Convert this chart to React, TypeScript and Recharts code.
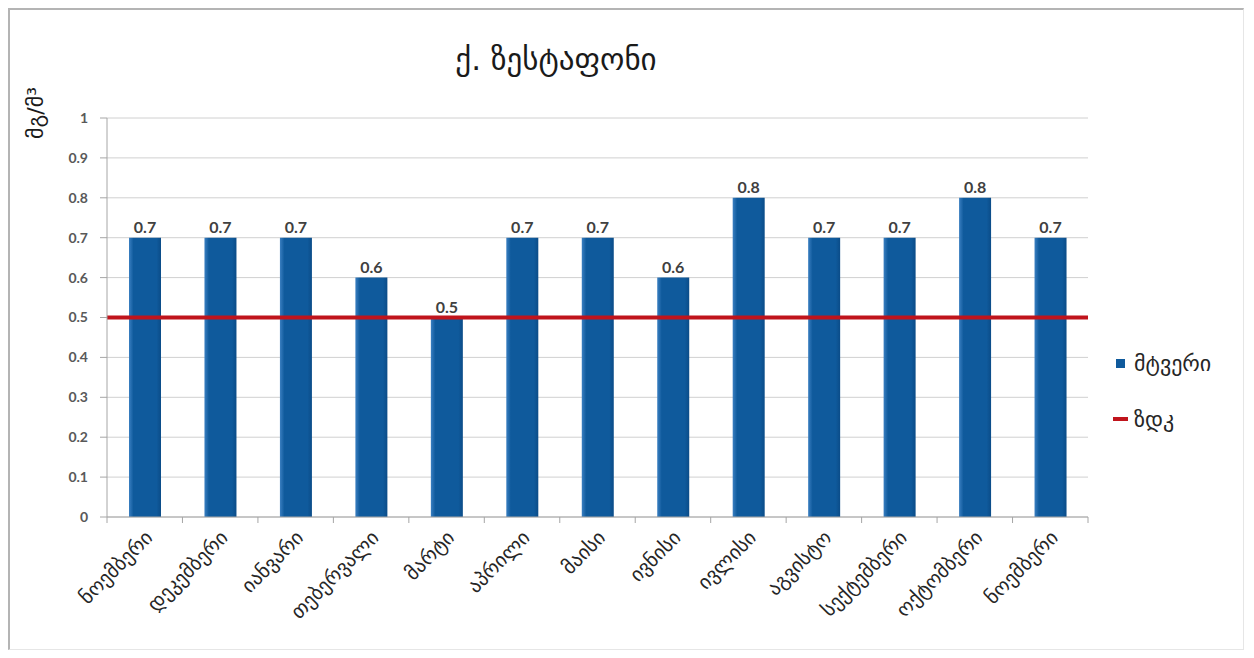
import { Bar, BarChart, CartesianGrid, LabelList, Legend, ReferenceLine, XAxis, YAxis } from "recharts";

// monthly dust concentration, mg/m3
const months = [
  "ნოემბერი",
  "დეკემბერი",
  "იანვარი",
  "თებერვალი",
  "მარტი",
  "აპრილი",
  "მაისი",
  "ივნისი",
  "ივლისი",
  "აგვისტო",
  "სექტემბერი",
  "ოქტომბერი",
  "ნოემბერი",
];
const dust = [0.7, 0.7, 0.7, 0.6, 0.5, 0.7, 0.7, 0.6, 0.8, 0.7, 0.7, 0.8, 0.7];
const zdk = 0.5; // permissible limit
const yTicks = [0, 0.1, 0.2, 0.3, 0.4, 0.5, 0.6, 0.7, 0.8, 0.9, 1];

const data = months.map((m, i) => ({ key: `${m}-${i}`, month: m, dust: dust[i] }));

const W = 1232;
const H = 638;
const M = { top: 108, right: 154, bottom: 31, left: 57 };
const Y_W = 40;
const X_H = 100;
const plotW = W - M.left - M.right - Y_W;
const band = plotW / months.length;

const GEO = "'DejaVu Sans', 'Noto Sans', sans-serif";
const BLUE = "#0f5a9c";
const RED = "#c0141c";

function MonthTick(props: any) {
  const { x, y, payload, index } = props;
  const top = y - 8;
  const ax = x + 9;
  const ay = y + 14;
  return (
    <g>
      <line x1={x - band / 2} x2={x - band / 2} y1={top} y2={top + 6} stroke="#a6a6a6" />
      {index === months.length - 1 && (
        <line x1={x + band / 2} x2={x + band / 2} y1={top} y2={top + 6} stroke="#a6a6a6" />
      )}
      <text
        x={ax}
        y={ay}
        transform={`rotate(-45 ${ax} ${ay})`}
        textAnchor="end"
        fontFamily={GEO}
        fontSize={20}
        fill="#262626"
      >
        {months[index] ?? payload.value}
      </text>
    </g>
  );
}

function SideLegend() {
  return (
    <div style={{ fontFamily: GEO, fontSize: 22, color: "#262626" }}>
      <div style={{ display: "flex", alignItems: "center", height: 26 }}>
        <span style={{ width: 9, height: 9, background: BLUE, display: "inline-block", marginRight: 9, marginLeft: 3 }} />
        მტვერი
      </div>
      <div style={{ display: "flex", alignItems: "center", height: 26, marginTop: 30 }}>
        <span style={{ width: 15, height: 4, background: RED, display: "inline-block", marginRight: 6 }} />
        ზდკ
      </div>
    </div>
  );
}

export default function App() {
  return (
    <div
      style={{
        position: "relative",
        width: 1236,
        height: 642,
        boxSizing: "border-box",
        borderLeft: "2px solid #b4b4b4",
        borderTop: "2px solid #b4b4b4",
        borderRight: "1px solid #e6e6e6",
        borderBottom: "1px solid #e6e6e6",
        background: "#fff",
      }}
    >
      <div
        style={{
          position: "absolute",
          left: 340,
          width: 412,
          top: 31,
          textAlign: "center",
          fontFamily: GEO,
          fontSize: 31,
          color: "#1a1a1a",
        }}
      >
        ქ. ზესტაფონი
      </div>
      <div
        style={{
          position: "absolute",
          left: 25,
          top: 103,
          transform: "translate(-50%, -50%) rotate(-90deg)",
          transformOrigin: "center",
          fontFamily: GEO,
          fontSize: 22,
          whiteSpace: "nowrap",
          color: "#1a1a1a",
        }}
      >
        მგ/მ³
      </div>
      <BarChart width={W} height={H} data={data} margin={M} barSize={32}>
        <defs>
          <linearGradient id="barFill" x1="0" y1="0" x2="1" y2="0">
            <stop offset="0%" stopColor="#3a7fc1" />
            <stop offset="14%" stopColor={BLUE} />
            <stop offset="86%" stopColor={BLUE} />
            <stop offset="100%" stopColor="#0b4c88" />
          </linearGradient>
        </defs>
        <CartesianGrid vertical={false} stroke="#d0d0d0" />
        <XAxis
          dataKey="key"
          height={X_H}
          interval={0}
          stroke="#a6a6a6"
          tickLine={false}
          tick={<MonthTick />}
        />
        <YAxis
          domain={[0, 1]}
          ticks={yTicks}
          width={Y_W}
          stroke="#a6a6a6"
          tickSize={7}
          tickMargin={12}
          tick={{ fontFamily: "Lato, sans-serif", fontWeight: 700, fontSize: 14, fill: "#595959" }}
        />
        <Bar dataKey="dust" name="მტვერი" fill="url(#barFill)" isAnimationActive={false}>
          <LabelList
            dataKey="dust"
            position="top"
            offset={5}
            style={{ fontFamily: "Lato, sans-serif", fontWeight: 700, fontSize: 16, fill: "#404040" }}
          />
        </Bar>
        <ReferenceLine y={zdk} stroke={RED} strokeWidth={4} />
        <Legend
          layout="vertical"
          align="center"
          verticalAlign="middle"
          wrapperStyle={{ left: 1103, top: 340, width: 130 }}
          content={<SideLegend />}
        />
      </BarChart>
    </div>
  );
}
